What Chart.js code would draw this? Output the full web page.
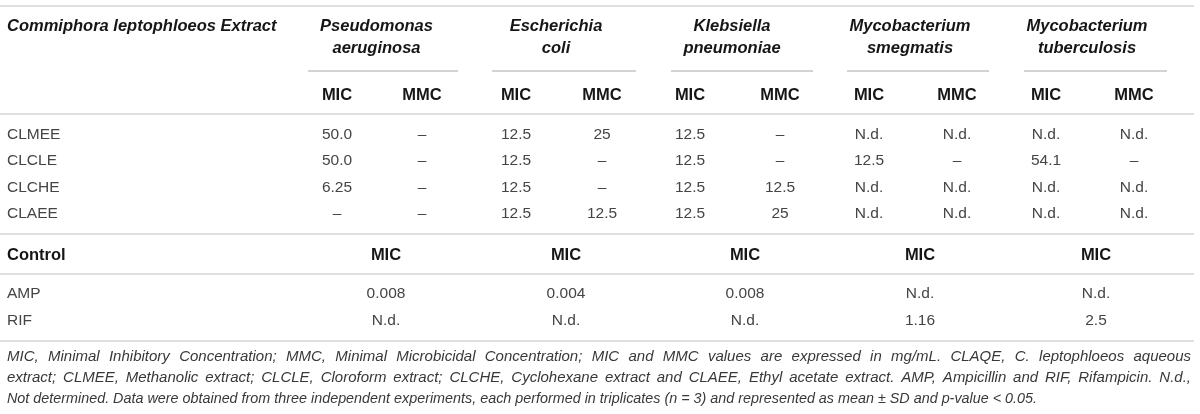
<!DOCTYPE html>
<html>
<head>
<meta charset="utf-8">
<script src="https://cdn.jsdelivr.net/npm/chart.js@4.4.1/dist/chart.umd.min.js"></script>
<style>
body{margin:0;background:#fff;}
#contenedor{width:1200px;height:414px;position:relative;}
</style>
</head>
<body>
<div id="contenedor"><canvas id="tabla-mic"></canvas></div>
<script>
// datos de la tabla
var titulo = 'Commiphora leptophloeos Extract';
var especies = [
	['Pseudomonas','aeruginosa'],
	['Escherichia','coli'],
	['Klebsiella','pneumoniae'],
	['Mycobacterium','smegmatis'],
	['Mycobacterium','tuberculosis']
];
var extractos = ['CLMEE','CLCLE','CLCHE','CLAEE'];
var paMic = ['50.0','50.0','6.25','–'];
var paMmc = ['–','–','–','–'];
var ecMic = ['12.5','12.5','12.5','12.5'];
var ecMmc = ['25','–','–','12.5'];
var kpMic = ['12.5','12.5','12.5','12.5'];
var kpMmc = ['–','–','12.5','25'];
var msMic = ['N.d.','12.5','N.d.','N.d.'];
var msMmc = ['N.d.','–','N.d.','N.d.'];
var mtMic = ['N.d.','54.1','N.d.','N.d.'];
var mtMmc = ['N.d.','–','N.d.','N.d.'];
var controles = ['AMP','RIF'];
var ampMic = ['0.008','0.004','0.008','N.d.','N.d.'];
var rifMic = ['N.d.','N.d.','N.d.','1.16','2.5'];
var notas = [
	'MIC, Minimal Inhibitory Concentration; MMC, Minimal Microbicidal Concentration; MIC and MMC values are expressed in mg/mL. CLAQE, C. leptophloeos aqueous',
	'extract; CLMEE, Methanolic extract; CLCLE, Cloroform extract; CLCHE, Cyclohexane extract and CLAEE, Ethyl acetate extract. AMP, Ampicillin and RIF, Rifampicin. N.d.,',
	'Not determined. Data were obtained from three independent experiments, each performed in triplicates (n = 3) and represented as mean ± SD and p-value < 0.05.'
];

// posiciones (en unidades de las escalas)
var colMic = [337, 516, 690, 869, 1046];
var colMmc = [422, 602, 780, 957, 1134];
var colControl = [386, 566, 745, 920, 1096];
var subrayado = [[308,458],[492,636],[671,813],[847,989],[1024,1167]];
var yFilas = [135, 161, 188, 214];
var yControles = [294, 321];
var yNotas = [357, 378, 399];

var fuente = '"Liberation Sans", Arial, Helvetica, sans-serif';

function linea(ctx,x1,x2,y,color,ancho){
	ctx.beginPath();
	ctx.strokeStyle=color;
	ctx.lineWidth=ancho;
	ctx.moveTo(x1,y);
	ctx.lineTo(x2,y);
	ctx.stroke();
}

function texto_justificado(ctx,txt,x,y,ancho){
	var palabras=txt.split(' ');
	var total=0;
	for (var i = 0; i < palabras.length; i++) {
		total+=ctx.measureText(palabras[i]).width;
	}
	var hueco=(ancho-total)/(palabras.length-1);
	var pos=x;
	for (var i = 0; i < palabras.length; i++) {
		ctx.fillText(palabras[i],pos,y);
		pos+=ctx.measureText(palabras[i]).width+hueco;
	}
}

var pluginTabla = {
	id:'tablaMic',
	afterDraw:function(chart){
		var ctx=chart.ctx;
		var sx=chart.scales.x, sy=chart.scales.y;
		function px(v){return sx.getPixelForValue(v);}
		function py(v){return sy.getPixelForValue(v);}
		var gris='#d4d4d4';
		var valores=[[paMic,paMmc],[ecMic,ecMmc],[kpMic,kpMmc],[msMic,msMmc],[mtMic,mtMmc]];
		ctx.save();
		ctx.textBaseline='middle';

		// reglas horizontales
		linea(ctx,px(0),px(1194),py(6),gris,1.5);
		linea(ctx,px(0),px(1194),py(114),gris,1.5);
		linea(ctx,px(0),px(1194),py(234),gris,1.5);
		linea(ctx,px(0),px(1194),py(274),gris,1.5);
		linea(ctx,px(0),px(1194),py(341),gris,1.5);
		for (var i = 0; i < subrayado.length; i++) {
			linea(ctx,px(subrayado[i][0]),px(subrayado[i][1]),py(71),'#c4c4c4',1.5);
		}

		// encabezado
		ctx.fillStyle='#161616';
		ctx.font='italic bold 16.5px '+fuente;
		ctx.textAlign='left';
		ctx.fillText(titulo,px(7),py(26));
		ctx.textAlign='center';
		for (var i = 0; i < especies.length; i++) {
			var cx=(colMic[i]+colMmc[i])/2-3;
			ctx.fillText(especies[i][0],px(cx),py(26));
			ctx.fillText(especies[i][1],px(cx),py(48));
		}
		ctx.font='bold 16.5px '+fuente;
		for (var i = 0; i < especies.length; i++) {
			ctx.fillText('MIC',px(colMic[i]),py(95));
			ctx.fillText('MMC',px(colMmc[i]),py(95));
		}

		// filas de extractos
		ctx.font='15.5px '+fuente;
		ctx.fillStyle='#454545';
		for (var f = 0; f < extractos.length; f++) {
			ctx.textAlign='left';
			ctx.fillText(extractos[f],px(7),py(yFilas[f]));
			ctx.textAlign='center';
			for (var i = 0; i < valores.length; i++) {
				ctx.fillText(valores[i][0][f],px(colMic[i]),py(yFilas[f]));
				ctx.fillText(valores[i][1][f],px(colMmc[i]),py(yFilas[f]));
			}
		}

		// controles
		ctx.font='bold 16.5px '+fuente;
		ctx.fillStyle='#161616';
		ctx.textAlign='left';
		ctx.fillText('Control',px(7),py(255));
		ctx.textAlign='center';
		for (var i = 0; i < colControl.length; i++) {
			ctx.fillText('MIC',px(colControl[i]),py(255));
		}
		ctx.font='15.5px '+fuente;
		ctx.fillStyle='#454545';
		var filasCtrl=[ampMic,rifMic];
		for (var f = 0; f < controles.length; f++) {
			ctx.textAlign='left';
			ctx.fillText(controles[f],px(7),py(yControles[f]));
			ctx.textAlign='center';
			for (var i = 0; i < colControl.length; i++) {
				ctx.fillText(filasCtrl[f][i],px(colControl[i]),py(yControles[f]));
			}
		}

		// nota al pie
		ctx.font='italic 15px '+fuente;
		ctx.fillStyle='#383838';
		ctx.textAlign='left';
		texto_justificado(ctx,notas[0],px(7),py(yNotas[0]),px(1191)-px(7));
		texto_justificado(ctx,notas[1],px(7),py(yNotas[1]),px(1191)-px(7));
		ctx.fillText(notas[2],px(7),py(yNotas[2]),px(1037)-px(7));
		ctx.restore();
	}
};

var config = {
	type:'scatter',
	data:{datasets:[{data:[],pointRadius:0}]},
	options:{
		responsive:true,
		maintainAspectRatio:false,
		animation:false,
		layout:{padding:0},
		plugins:{legend:{display:false},tooltip:{enabled:false}},
		scales:{
			x:{type:'linear',display:false,min:0,max:1200},
			y:{type:'linear',display:false,min:0,max:414,reverse:true}
		}
	},
	plugins:[pluginTabla]
};
var ctx = document.getElementById('tabla-mic').getContext('2d');
window.graficoTabla = new Chart(ctx, config);
</script>
</body>
</html>
